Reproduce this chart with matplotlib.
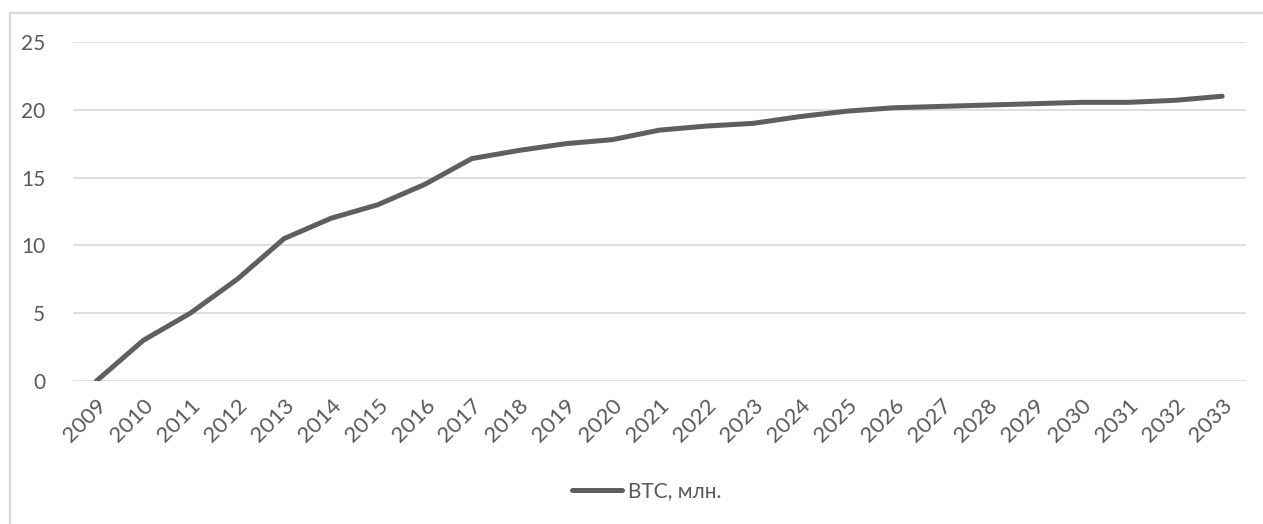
import matplotlib
matplotlib.use("Agg")
import matplotlib.pyplot as plt
from matplotlib.lines import Line2D

years = [str(y) for y in range(2009, 2034)]
btc = [0, 3.0, 5.0, 7.5, 10.5, 12.0, 13.0, 14.5, 16.4, 17.0, 17.5, 17.8,
       18.5, 18.8, 19.0, 19.5, 19.9, 20.15, 20.25, 20.35, 20.45, 20.55,
       20.55, 20.7, 21.0]
series_name = "BTC, млн."

plt.rcParams['font.family'] = ['Lato', 'DejaVu Sans']
text_color = '#595959'
grid_color = '#d9d9d9'

fig = plt.figure(figsize=(12.63, 5.24), dpi=100)
ax = fig.add_axes([73 / 1263, 1 - 381 / 524, (1245.6 - 73) / 1263, (381 - 42) / 524])

x = list(range(len(years)))
ax.plot(x, btc, color='#5f5f5f', linewidth=3.6, solid_capstyle='round',
        solid_joinstyle='round', label=series_name, zorder=3)

ax.set_xlim(-0.5, len(years) - 0.5)
ax.set_ylim(0, 25)
ax.set_yticks(range(0, 26, 5))
ax.set_xticks(x)
ax.set_xticklabels(years, rotation=45, ha='right', va='top',
                   rotation_mode='anchor')
ax.tick_params(axis='both', length=0, labelsize=15, labelcolor=text_color)
ax.tick_params(axis='y', pad=20)
ax.tick_params(axis='x', pad=10, labelsize=16)
ax.yaxis.grid(True, color=grid_color, linewidth=1.2)
ax.set_axisbelow(True)
for s in ax.spines.values():
    s.set_visible(False)

# chart frame: only the top and left edges fall inside the image
fig.add_artist(Line2D([10 / 1263, 1.0], [1 - 13 / 524, 1 - 13 / 524],
                      color=grid_color, linewidth=1.6))
fig.add_artist(Line2D([10 / 1263, 10 / 1263], [0.0, 1 - 13 / 524],
                      color=grid_color, linewidth=1.6))

fig.legend(loc='center', bbox_to_anchor=(647 / 1263, 1 - 491 / 524),
           frameon=False, fontsize=15, labelcolor=text_color,
           handlelength=2.4, handletextpad=0.3)

fig.savefig('out.png', dpi=100, facecolor='white')
